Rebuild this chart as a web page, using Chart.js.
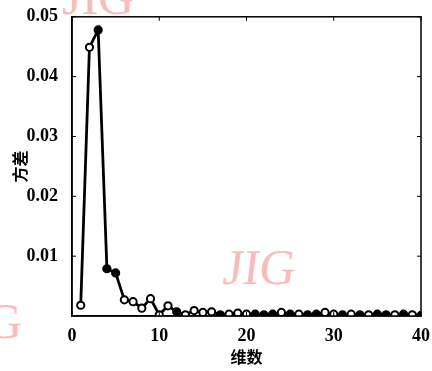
<!DOCTYPE html>
<html>
<head>
<meta charset="utf-8">
<script src="https://cdn.jsdelivr.net/npm/chart.js@4"></script>
<style>
  html, body { margin: 0; padding: 0; background: #fff; }
  #wrap { width: 432px; height: 371px; }
</style>
</head>
<body>
<div id="wrap"><canvas id="grafico-variancia" width="432" height="371"></canvas></div>
<script>
// dados
const dimensoes = [1, 2, 3, 4, 5, 6, 7, 8, 9, 10, 11, 12, 13, 14, 15, 16, 17, 18, 19, 20,
    21, 22, 23, 24, 25, 26, 27, 28, 29, 30, 31, 32, 33, 34, 35, 36, 37, 38, 39, 40];
const variancias = [0.0018, 0.0449, 0.0478, 0.0079, 0.0072, 0.0027, 0.0024, 0.0013, 0.0029, 0.0002,
    0.0017, 0.0007, 0.0002, 0.0009, 0.0006, 0.0007, 0.0002, 0.0003, 0.0005, 0.0003,
    0.0003, 0.0002, 0.0003, 0.0006, 0.0003, 0.0003, 0.0002, 0.0003, 0.0006, 0.0003,
    0.0002, 0.0003, 0.0002, 0.0002, 0.0003, 0.0002, 0.0002, 0.0003, 0.0002, 0.0001];
const ticksX = [0, 10, 20, 30, 40];
const ticksY = [0.01, 0.02, 0.03, 0.04, 0.05];
// pontos com marcador cheio (o resto é vazado)
const marcadoresCheios = [3, 4, 5, 12, 17, 21, 22, 23, 25, 27, 28, 31, 33, 35, 36, 38, 40];

const fonteSerif = 'Liberation Serif';
const fonteCJK = 'Noto Sans CJK SC';

// ticks para dentro e moldura (estilo matlab) + marca d'agua
const moldura = {
    id: 'moldura',
    beforeDraw(chart) {
        const ctx = chart.ctx;
        ctx.save();
        ctx.fillStyle = 'rgba(246, 160, 160, 0.7)';
        ctx.font = '50px "' + fonteSerif + '"';
        ctx.textBaseline = 'alphabetic';
        ctx.save();
        ctx.translate(222, 284);
        ctx.transform(1, 0, -0.12, 1, 0, 0);
        ctx.fillText('JIG', 0, 0);
        ctx.restore();
        ctx.fillText('JIG', 62, 14);
        ctx.fillText('G', -14, 338);
        ctx.restore();
    },
    afterDatasetsDraw(chart) {
        const { ctx, chartArea: a, scales } = chart;
        ctx.save();
        ctx.strokeStyle = '#000';
        ctx.lineWidth = 1.5;
        ctx.strokeRect(a.left, a.top, a.right - a.left, a.bottom - a.top);
        ctx.lineWidth = 1;
        ctx.beginPath();
        ticksX.forEach(v => {
            const x = scales.x.getPixelForValue(v);
            ctx.moveTo(x, a.bottom); ctx.lineTo(x, a.bottom - 4);
            ctx.moveTo(x, a.top); ctx.lineTo(x, a.top + 4);
        });
        ticksY.forEach(v => {
            const y = scales.y.getPixelForValue(v);
            ctx.moveTo(a.left, y); ctx.lineTo(a.left + 4, y);
            ctx.moveTo(a.right, y); ctx.lineTo(a.right - 4, y);
        });
        ctx.stroke();
        ctx.restore();
    }
};

function carregarGrafico() {
    const pontos = dimensoes.map((d, i) => ({ x: d, y: variancias[i] }));
    const preenchimento = dimensoes.map(d => marcadoresCheios.includes(d) ? '#000' : '#fff');

    const ctx = document.getElementById('grafico-variancia').getContext('2d');
    new Chart(ctx, {
        type: 'line',
        data: {
            datasets: [{
                label: '方差',
                data: pontos,
                borderColor: '#000',
                borderWidth: 2.8,
                pointRadius: 3.6,
                pointBorderWidth: 2,
                pointBorderColor: '#000',
                pointBackgroundColor: preenchimento,
                tension: 0
            }]
        },
        options: {
            responsive: false,
            animation: false,
            layout: { padding: { left: 0, top: 15, right: 7, bottom: 0 } },
            plugins: {
                legend: { display: false },
                tooltip: { enabled: false }
            },
            scales: {
                x: {
                    type: 'linear',
                    min: 0,
                    max: 40,
                    afterFit: s => { s.height = 55; },
                    afterBuildTicks: s => { s.ticks = ticksX.map(v => ({ value: v })); },
                    grid: { display: false },
                    border: { display: true, color: '#000', width: 1.5 },
                    ticks: {
                        color: '#000',
                        padding: 2,
                        maxRotation: 0,
                        font: { family: fonteSerif, size: 18, weight: 'bold' }
                    },
                    title: {
                        display: true,
                        text: '维数',
                        color: '#000',
                        padding: { top: 0, bottom: 4 },
                        font: { family: fonteCJK, size: 16, weight: 'bold' }
                    }
                },
                y: {
                    min: 0,
                    max: 0.05,
                    afterFit: s => { s.width = 72; },
                    afterBuildTicks: s => { s.ticks = ticksY.map(v => ({ value: v })); },
                    grid: { display: false },
                    border: { display: true, color: '#000', width: 1.5 },
                    ticks: {
                        color: '#000',
                        padding: 6,
                        callback: v => v.toFixed(2),
                        font: { family: fonteSerif, size: 18, weight: 'bold' }
                    },
                    title: {
                        display: true,
                        text: '方差',
                        color: '#000',
                        padding: { top: 10, bottom: 0 },
                        font: { family: fonteCJK, size: 16, weight: 'bold' }
                    }
                }
            }
        },
        plugins: [moldura]
    });
}

document.addEventListener('DOMContentLoaded', carregarGrafico);
</script>
</body>
</html>
